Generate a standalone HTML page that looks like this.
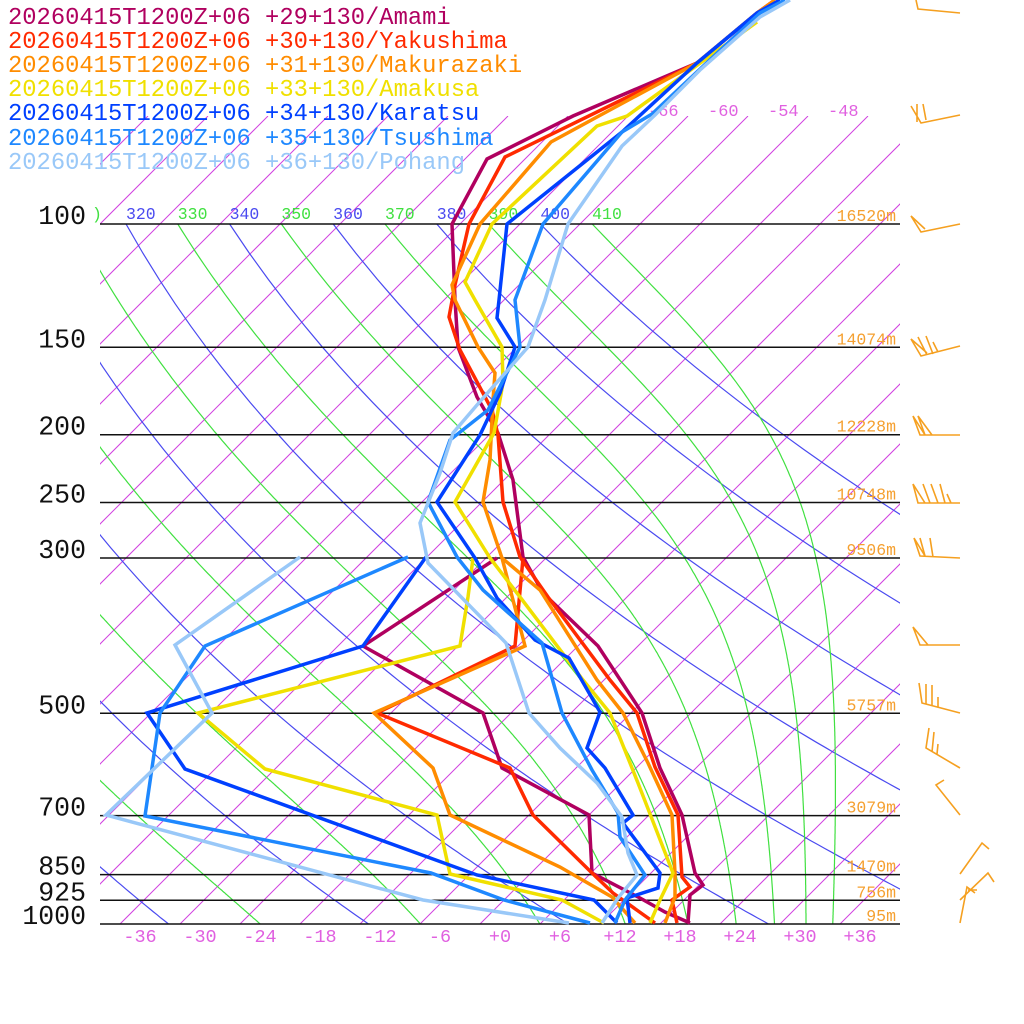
<!DOCTYPE html>
<html><head><meta charset="utf-8">
<style>
html,body{margin:0;padding:0;background:#fff;}
svg{display:block;}
text{font-family:"Liberation Mono","DejaVu Sans Mono",monospace;}
</style></head>
<body>
<svg id="s" width="1024" height="1024" viewBox="0 0 1024 1024" xmlns="http://www.w3.org/2000/svg">
<defs>
<clipPath id="cA"><rect x="100" y="224" width="800" height="700"/></clipPath>
<clipPath id="cI"><rect x="100" y="116" width="800" height="808"/></clipPath>
</defs>
<g id="iso" clip-path="url(#cI)" stroke="#d040e0" stroke-width="1" fill="none"></g>
<g id="adi" clip-path="url(#cA)" fill="none" stroke-width="1.2"></g>
<g id="isob" stroke="#111" stroke-width="1.5"></g>
<g id="lab"></g>
<g id="data" fill="none" stroke-width="3.5" stroke-linejoin="miter" stroke-linecap="butt"></g>
<g id="barbs" fill="none" stroke="#f5a020" stroke-width="1.6"></g>
<g font-size="23.8" id="leg">
<text x="8" y="24" fill="#b0005f">20260415T1200Z+06 +29+130/Amami</text>
<text x="8" y="48" fill="#ff2a00">20260415T1200Z+06 +30+130/Yakushima</text>
<text x="8" y="72" fill="#ff8c00">20260415T1200Z+06 +31+130/Makurazaki</text>
<text x="8" y="96" fill="#f0e000">20260415T1200Z+06 +33+130/Amakusa</text>
<text x="8" y="120" fill="#0040ff">20260415T1200Z+06 +34+130/Karatsu</text>
<text x="8" y="145" fill="#1e88ff">20260415T1200Z+06 +35+130/Tsushima</text>
<text x="8" y="169" fill="#99c8f8">20260415T1200Z+06 +36+130/Pohang</text>
</g>
</svg>
<script>
(function(){
var NS="http://www.w3.org/2000/svg";
function el(p,tag,a,txt){var e=document.createElementNS(NS,tag);for(var k in a)e.setAttribute(k,a[k]);if(txt!=null)e.textContent=txt;p.appendChild(e);return e;}
function yP(p){return 924-700*Math.log10(1000/p);}
function xT(T,y){return 500+10*T+(924-y);}
var iso=document.getElementById('iso'),adi=document.getElementById('adi'),isob=document.getElementById('isob'),lab=document.getElementById('lab'),data=document.getElementById('data'),barbs=document.getElementById('barbs');
for(var T=-140;T<=48;T+=6){
  var x1=xT(T,924),x2=xT(T,116);
  el(iso,'line',{x1:x1,y1:924,x2:x2,y2:116});
}
[-66,-60,-54,-48].forEach(function(T){
  el(lab,'text',{x:xT(T,116),y:116,fill:'#e060e0','font-size':17},(T>0?'+':'')+T);
});
function pathFrom(pts){return 'M'+pts.map(function(q){return q[0].toFixed(1)+','+q[1].toFixed(1);}).join('L');}
for(var th=180;th<=400;th+=20){
  var pts=[];
  for(var p=90;p<=1000;p+=10){var Tk=th*Math.pow(p/1000,0.2857);var y=yP(p);pts.push([xT(Tk-273.15,y),y]);}
  el(adi,'path',{d:pathFrom(pts),stroke:'#4a4af0'});
}
for(var th=190;th<=410;th+=20){
  var p=100,Tk=th*Math.pow(0.1,0.2857),pts=[],dp=2;
  while(p<=1000.01){
    var y=yP(p);pts.push([xT(Tk-273.15,y),y]);
    var Tc=Tk-273.15,es=6.112*Math.exp(17.67*Tc/(Tc+243.5)),rs=0.622*es/(p-es);
    var dTdp=(287*Tk+2.5e6*rs)/(p*(1004+2.5e6*2.5e6*rs*0.622/(287*Tk*Tk)));
    Tk+=dTdp*dp;p+=dp;
  }
  el(adi,'path',{d:pathFrom(pts),stroke:'#40e040'});
}
for(var th=310;th<=410;th+=10){
  var Tk=th*Math.pow(0.1,0.2857),x=xT(Tk-273.15,224);
  var blue=(th%20==0);
  if(x<92)continue;
  el(lab,'text',{x:x,y:219,fill:blue?'#4a4af0':'#40e040','font-size':16.5},''+th);
}
el(lab,'text',{x:92,y:219,fill:'#40e040','font-size':16.5},')');
var P=[100,150,200,250,300,500,700,850,925,1000];
var H={100:'16520m',150:'14074m',200:'12228m',250:'10748m',300:'9506m',500:'5757m',700:'3079m',850:'1470m',925:'756m',1000:'95m'};
P.forEach(function(p){var y=yP(p);
  el(isob,'line',{x1:100,y1:y,x2:900,y2:y});
  el(lab,'text',{x:86,y:y,'text-anchor':'end','font-size':26.5,fill:'#111'},''+p);
  el(lab,'text',{x:896,y:y-3,'text-anchor':'end','font-size':16.5,fill:'#f5a030'},H[p]);
});
for(var T=-36;T<=36;T+=6){
  el(lab,'text',{x:xT(T,924),y:942,'text-anchor':'middle','font-size':18.5,fill:'#e060e0'},(T>=0?'+':'')+T);
}
var S=[
['#b0005f',[[775,0],[757,13],[697,63],[573,116],[487,159],[452,224],[455,300],[458,347],[477,397],[498,433],[513,480],[523,557],[543,593],[598,646],[642,713],[660,768],[682,815],[695,873],[703,885],[690,895],[688,923]],
 [[497,558],[363,646],[483,713],[502,768],[589,815],[592,873],[640,898],[665,912],[690,923]]],
['#ff2a00',[[775,0],[757,13],[697,63],[505,157],[469,224],[455,285],[449,317],[460,350],[492,410],[498,435],[503,502],[520,557],[548,597],[610,680],[637,713],[655,767],[678,815],[682,877],[690,887],[672,900],[677,923]],
 [[523,558],[515,646],[377,713],[510,768],[533,815],[592,873],[613,893],[655,923]]],
['#ff8c00',[[775,0],[757,13],[697,63],[597,117],[551,142],[480,224],[452,285],[455,300],[478,347],[495,373],[493,400],[490,460],[483,502],[502,558],[540,590],[597,680],[623,713],[648,763],[672,815],[675,873],[675,897],[665,923]],
 [[502,558],[525,646],[374,713],[433,768],[450,815],[560,867],[612,897],[635,923]]],
['#f0e000',[[757,22],[627,116],[597,126],[492,224],[465,282],[475,300],[502,347],[503,383],[494,433],[455,502],[490,558],[520,597],[583,680],[610,713],[638,783],[673,873],[660,900],[650,923]],
 [[473,558],[468,597],[460,646],[198,713],[265,769],[437,815],[450,874],[562,900],[604,923]]],
['#0040ff',[[780,0],[757,13],[697,63],[622,132],[507,224],[499,300],[497,318],[515,347],[500,393],[480,435],[437,502],[475,558],[497,598],[535,640],[569,658],[600,712],[587,748],[605,768],[633,815],[623,823],[660,873],[658,888],[627,898],[630,923]],
 [[426,557],[363,646],[147,713],[185,769],[477,875],[594,900],[617,923]]],
['#1e88ff',[[785,0],[760,13],[652,114],[622,132],[543,224],[515,300],[520,347],[488,410],[450,440],[428,502],[457,557],[483,590],[542,643],[562,713],[592,770],[618,813],[620,837],[645,875],[625,900],[615,923]],
 [[408,557],[205,646],[160,713],[145,816],[431,873],[504,900],[590,923]]],
['#99c8f8',[[790,0],[760,17],[700,70],[655,115],[622,146],[568,224],[545,300],[528,347],[477,405],[453,433],[440,473],[420,523],[428,563],[506,643],[529,713],[560,748],[597,783],[622,817],[628,853],[637,875],[618,898],[602,923]],
 [[300,557],[175,645],[212,713],[106,815],[423,900],[569,923]]]
];
S.forEach(function(s){
  el(data,'path',{d:pathFrom(s[1]),stroke:s[0]});
  el(data,'path',{d:pathFrom(s[2]),stroke:s[0]});
});
var B=[
'M960,13L918,9L916,0',
'M960,115L921,123L911,106M917,122L917,104M926,120L923,104',
'M960,224L921,232L911,216L925,229',
'M960,346L921,356L911,339L927,353M927,355L918,337M933,354L926,336M938,352L933,342',
'M960,435L920,435L913,416L925,435L918,416L932,435',
'M960,503L918,503L913,484L925,503M930,503L923,484M938,503L931,484M945,503L940,484M951,503L947,494',
'M960,558L920,556L914,538L925,556M925,556L920,538M933,557L930,538',
'M960,645L920,645L913,627L928,645',
'M960,713L922,703L919,683M926,704L926,684M932,705L932,685M938,707L938,697',
'M960,768L926,748L929,728M932,752L934,732M937,754L938,744',
'M960,815L936,785L944,780',
'M960,874L982,843L989,849',
'M960,900L988,873L994,882M968,890L977,890',
'M960,923L967,887L975,893'
];
B.forEach(function(d){el(barbs,'path',{d:d});});
})();
</script>
</body></html>
